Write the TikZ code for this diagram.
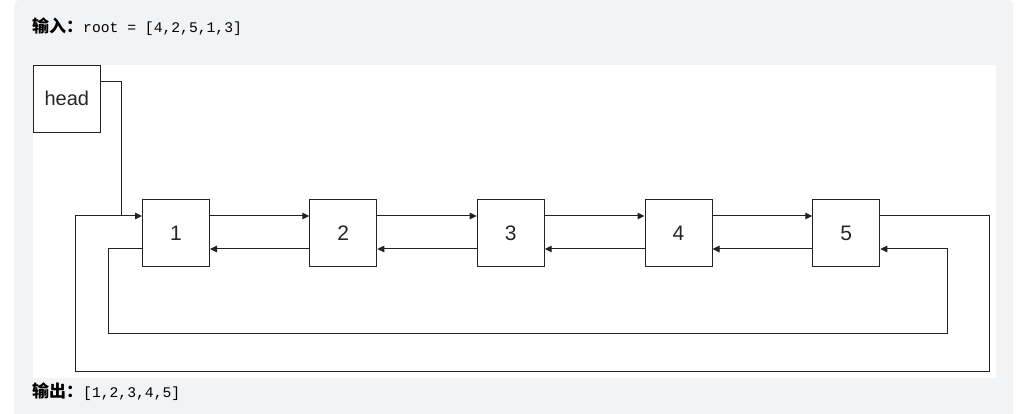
\documentclass[tikz,border=0pt]{standalone}
\usepackage{fontspec}
\setmainfont{Liberation Sans}
\setmonofont{Liberation Mono}
\newfontfamily\cjk{Noto Sans CJK SC}
\usetikzlibrary{arrows.meta}
\definecolor{panel}{HTML}{F2F3F5}
\definecolor{ln}{HTML}{222222}
\tikzset{
  box/.style={draw=ln, line width=1pt, minimum width=67pt, minimum height=67pt, inner sep=0pt, fill=white, text=black!85, font=\fontsize{21}{21}\selectfont},
  link/.style={draw=ln, line width=1pt},
  arr/.style={link, -{Triangle[length=7pt,width=6.5pt]}},
  lbl/.style={anchor=west, inner sep=0pt, text=black}
}
\begin{document}
\begin{tikzpicture}[x=1pt,y=-1pt]
\path[use as bounding box] (0,0) rectangle (1031,414);
\begin{scope}
\clip (0,0) rectangle (1031,414);
\fill[panel, rounded corners=6pt] (14,0) rectangle (1013,440);
\end{scope}
\fill[white] (33,65) rectangle (996,378);

\node[lbl] (inp) at (32,26.5) {{\cjk\bfseries\fontsize{17}{17}\selectfont 输入：}{\ttfamily\fontsize{14.7}{15}\selectfont root = [4,2,5,1,3]}};
\node[lbl] (outp) at (32,391.5) {{\cjk\bfseries\fontsize{17}{17}\selectfont 输出：}{\ttfamily\fontsize{14.7}{15}\selectfont [1,2,3,4,5]}};

\node[box, font=\fontsize{20}{20}\selectfont] (head) at (66.8,98.8) {head};
\node[box] (n1) at (176,233) {1};
\node[box] (n2) at (343.3,233) {2};
\node[box] (n3) at (510.7,233) {3};
\node[box] (n4) at (678.5,233) {4};
\node[box] (n5) at (846.3,233) {5};

\coordinate (hj) at (121,216);
\coordinate (oR) at (989,371.5);
\coordinate (oL) at (75.3,371.5);
\coordinate (iL) at (108.5,333.3);
\coordinate (iR) at (947,333.3);

\foreach \a/\b in {n1/n2,n2/n3,n3/n4,n4/n5}{
  \draw[arr] ([yshift=17pt]\a.east) -- ([yshift=17pt]\b.west);
  \draw[arr] ([yshift=-16pt]\b.west) -- ([yshift=-16pt]\a.east);
}
\draw[arr] ([yshift=17pt]n5.east) -| (oR) -- (oL) |- ([yshift=17pt]n1.west);
\draw[arr] ([yshift=-16pt]n1.west) -| (iL) -- (iR) |- ([yshift=-16pt]n5.east);
\draw[link] ([yshift=17pt]head.east) -| (hj);
\end{tikzpicture}
\end{document}
